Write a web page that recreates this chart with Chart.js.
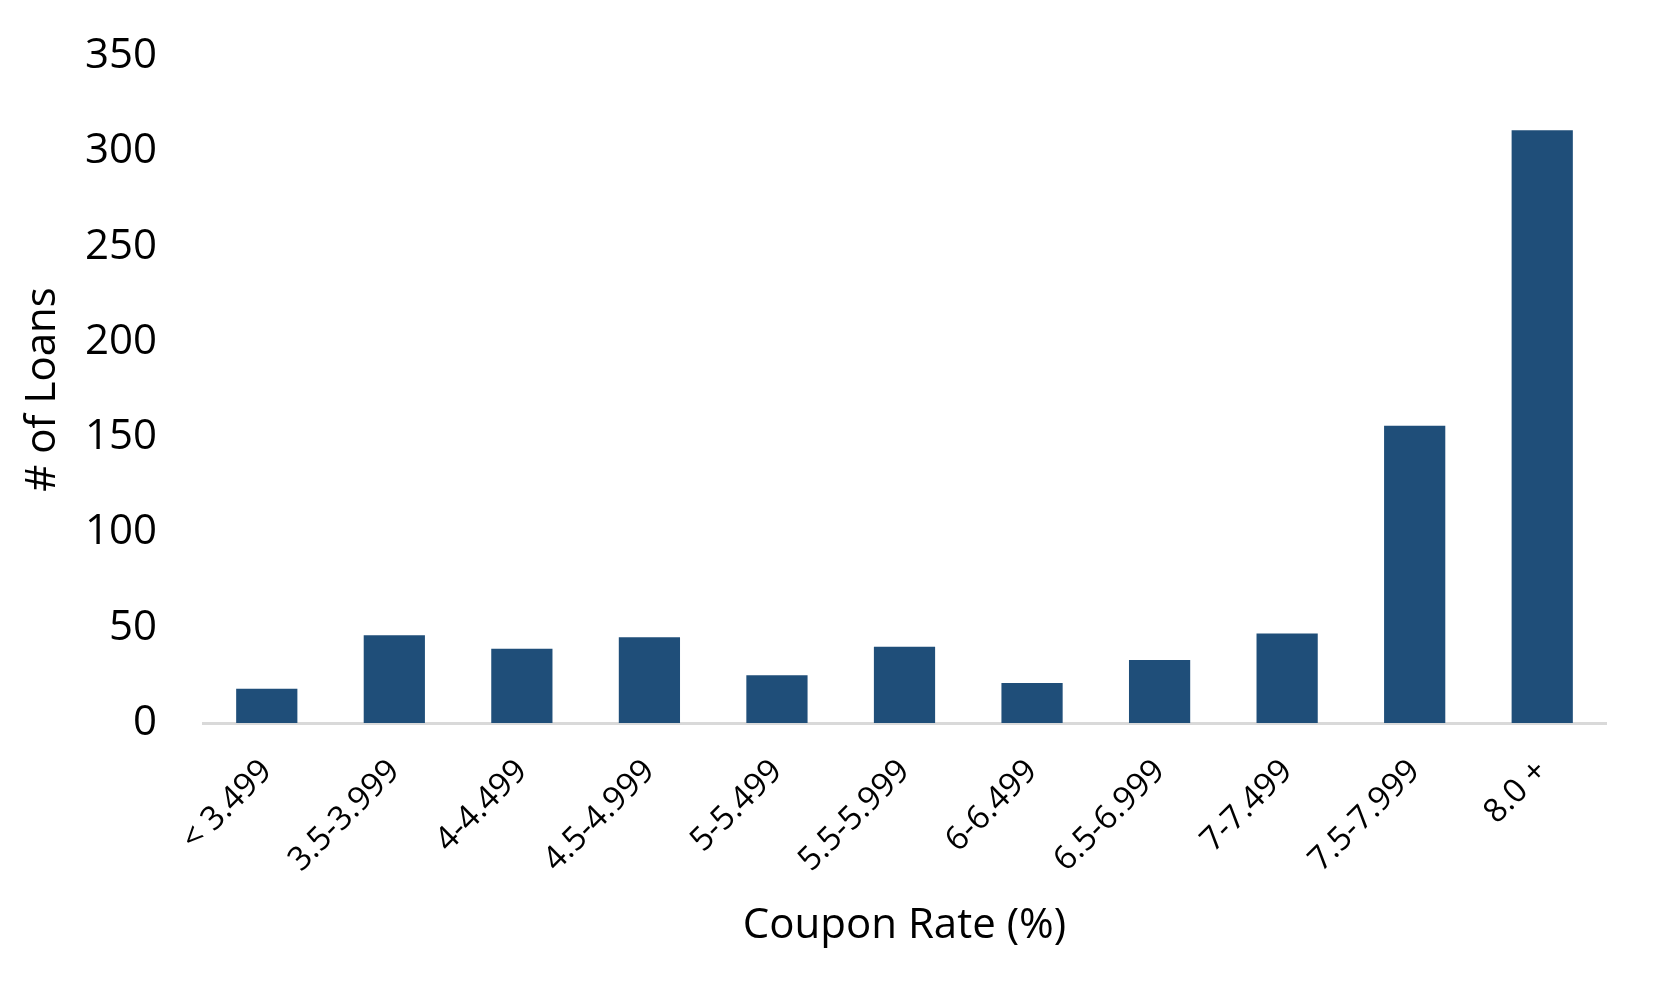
<!DOCTYPE html>
<html>
<head>
<meta charset="utf-8">
<script src="https://cdn.jsdelivr.net/npm/chart.js@4"></script>
<style>
  html, body { margin: 0; padding: 0; background: #fff; }
  #wrap { width: 1657px; height: 990px; }
</style>
</head>
<body>
<div id="wrap"><canvas id="barChart"></canvas></div>
<script>
'use strict'

const categories = ['< 3.499', '3.5-3.999', '4-4.499', '4.5-4.999', '5-5.499', '5.5-5.999',
  '6-6.499', '6.5-6.999', '7-7.499', '7.5-7.999', '8.0 +'];
const loans = [18, 46, 39, 45, 25, 40, 21, 33, 47, 156, 311];
const yTicks = [0, 50, 100, 150, 200, 250, 300, 350];

const ctx = document.getElementById('barChart');

new Chart(ctx, {
  type: 'bar',
  data: {
    labels: categories,
    datasets: [{
      label: '# of Loans',
      data: loans,
      backgroundColor: '#1f4e79',
      borderWidth: 0,
      barPercentage: 0.48,
      categoryPercentage: 1.0,
    }]
  },
  options: {
    responsive: true,
    maintainAspectRatio: false,
    animation: false,
    layout: {
      padding: { top: 56, right: 51, bottom: 0, left: 0 }
    },
    plugins: {
      legend: { display: false },
      tooltip: { enabled: false }
    },
    scales: {
      x: {
        grid: { display: false, drawTicks: false },
        border: { display: true, color: '#d9d9d9', width: 3 },
        ticks: {
          color: '#000',
          font: { family: 'Open Sans', size: 33 },
          maxRotation: 45,
          minRotation: 45,
          padding: 29,
        },
        title: {
          display: true,
          text: 'Coupon Rate (%)',
          color: '#000',
          font: { family: 'Open Sans', size: 42 },
          padding: { top: 0, bottom: 39 }
        },
        afterFit: (scale) => { scale.height = 267; }
      },
      y: {
        min: 0,
        max: 350,
        grid: { display: false, drawTicks: false },
        border: { display: false },
        afterBuildTicks: (scale) => { scale.ticks = yTicks.map(v => ({ value: v })); },
        ticks: {
          color: '#000',
          font: { family: 'Open Sans', size: 42 },
          padding: 46,
        },
        title: {
          display: true,
          text: '# of Loans',
          color: '#000',
          font: { family: 'Open Sans', size: 42 },
          padding: { top: 18, bottom: 0 }
        },
        afterFit: (scale) => {
          // tick padding would otherwise be added above the top label
          scale.width = 203;
          scale.paddingTop = 0;
          scale.paddingBottom = 0;
        }
      }
    }
  }
});
</script>
</body>
</html>
